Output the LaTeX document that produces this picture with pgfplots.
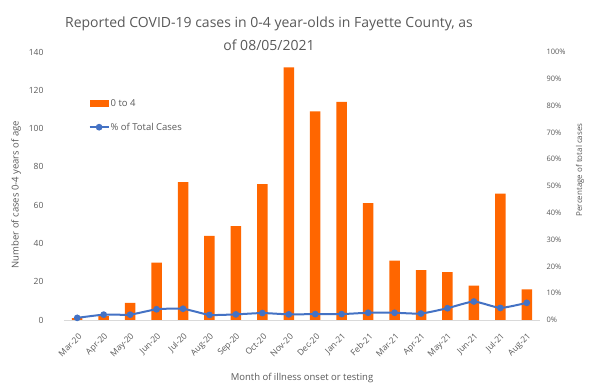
\documentclass[border=0pt]{standalone}
\usepackage{fontspec}
\setmainfont{Open Sans}
\usepackage{pgfplots}
\usepackage{pgfplotstable}
\pgfplotsset{compat=1.18}
\definecolor{barorange}{HTML}{FF6600}
\definecolor{lineblue}{HTML}{4472C4}
\definecolor{txtgray}{HTML}{595959}
\definecolor{axgray}{HTML}{D9D9D9}

\pgfplotstableread{
x cases pct
0 1 0.8
1 2 2.0
2 9 2.0
3 30 4.0
4 72 4.2
5 44 1.9
6 49 2.1
7 71 2.6
8 132 2.1
9 109 2.2
10 114 2.2
11 61 2.7
12 31 2.7
13 26 2.4
14 25 4.4
15 18 6.9
16 66 4.5
17 16 6.4
}\data

\begin{document}
\begin{tikzpicture}
\useasboundingbox (-64pt,-70pt) rectangle (527pt,320pt);
\begin{axis}[
  scale only axis, width=476pt, height=268pt,
  at={(0pt,0pt)}, anchor=south west,
  xmin=-0.5, xmax=17.5, ymin=0, ymax=140,
  axis y line*=left, axis x line*=bottom,
  y axis line style={draw=none},
  x axis line style={draw=axgray, line width=0.8pt},
  major tick length=0pt,
  ytick={0,20,...,140},
  xtick={0,...,17},
  xticklabels={Mar-20,Apr-20,May-20,Jun-20,Jul-20,Aug-20,Sep-20,Oct-20,Nov-20,Dec-20,Jan-21,Feb-21,Mar-21,Apr-21,May-21,Jun-21,Jul-21,Aug-21},
  x tick label style={rotate=45, anchor=east, font=\fontsize{8.5}{10}\selectfont, text=txtgray, inner sep=0pt, xshift=-8.5pt, yshift=-12.7pt},
  y tick label style={font=\fontsize{8.5}{10}\selectfont, text=txtgray, xshift=-17pt},
  /pgf/number format/assume math mode=true,
  xtick pos=bottom,
  ylabel={Number of cases 0-4 years of age},
  ylabel style={font=\fontsize{9.5}{12}\selectfont, text=txtgray, at={(axis description cs:-0.1008,0.468)}, anchor=center},
  xlabel={Month of illness onset or testing},
  xlabel style={font=\fontsize{9.5}{12}\selectfont, text=txtgray, at={(axis description cs:0.5,0)}, yshift=-58pt, anchor=center},
  legend style={draw=none, fill=none, at={(axis description cs:0.045,0.835)}, anchor=north west,
    font=\fontsize{9.5}{12}\selectfont, text=txtgray, row sep=13pt,
    nodes={inner sep=1pt}},
  legend cell align=left,
]
\addplot[ybar, bar width=10.5pt, bar shift=0pt, fill=barorange, draw=none,
  legend image code/.code={\fill[barorange] (0pt,-3.5pt) rectangle (19pt,3.5pt);}]
  table[x=x, y=cases] {\data};
\addlegendentry{0 to 4}
\addlegendimage{lineblue, line width=2pt, mark=*, mark size=2.3pt,
  legend image code/.code={\draw[lineblue, line width=2pt] (0pt,0pt) -- (19pt,0pt); \fill[lineblue] (9.5pt,0pt) circle (2.3pt);}}
\addlegendentry{\% of Total Cases}
\end{axis}
\begin{axis}[
  scale only axis, width=476pt, height=268pt,
  at={(0pt,0pt)}, anchor=south west,
  xmin=-0.5, xmax=17.5, ymin=0, ymax=100,
  axis y line*=right, axis x line=none,
  y axis line style={draw=none},
  major tick length=0pt,
  ytick={0,10,...,100},
  yticklabel={\pgfmathprintnumber{\tick}\%},
  y tick label style={font=\fontsize{7.5}{9}\selectfont, text=txtgray, xshift=3pt},
  /pgf/number format/assume math mode=true,
  ylabel={Percentage of total cases},
  ylabel style={font=\fontsize{8}{10}\selectfont, text=txtgray, at={(axis description cs:1.084,0.56)}, anchor=center},
]
\addplot[lineblue, line width=2pt, mark=*, mark size=2.3pt, smooth, tension=0.3,
  mark options={fill=lineblue, draw=lineblue}]
  table[x=x, y=pct] {\data};
\end{axis}
\node[font=\fontsize{14}{23}\selectfont, text=txtgray, align=center] at (205pt,286.5pt)
  {Reported COVID-19 cases in 0-4 year-olds in Fayette County, as\\of 08/05/2021};
\end{tikzpicture}
\end{document}
